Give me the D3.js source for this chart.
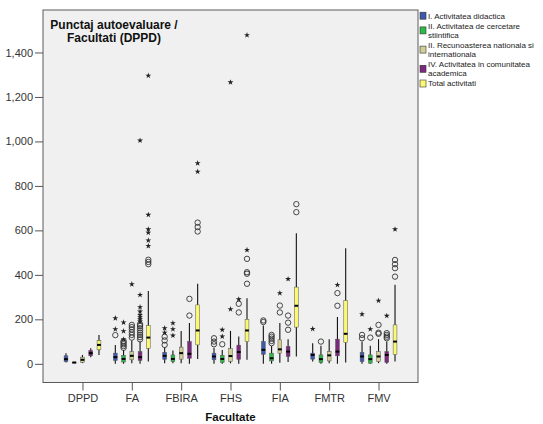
<!DOCTYPE html>
<html><head><meta charset="utf-8">
<script src="https://cdn.jsdelivr.net/npm/d3@7"></script>
<style>
body{margin:0;background:#fff}
svg{display:block;font-family:"Liberation Sans",Arial,Helvetica,sans-serif}
</style>
</head><body>
<svg id="chart" width="543" height="424"></svg>
<script>
// ---------- data ----------
const categories = ["DPPD","FA","FBIRA","FHS","FIA","FMTR","FMV"];
const seriesNames = [
  ["I. Activitatea didactica"],
  ["II. Activitatea de cercetare","stiintifica"],
  ["II. Recunoasterea nationala si","internationala"],
  ["IV. Activitatea in comunitatea","academica"],
  ["Total activitati"]
];
const seriesColors = ["#3E58AC","#2EB848","#D3CE97","#7C287D","#FBF873"];
const yTicks = [0,200,400,600,800,1000,1200,1400];
const titleLines = ["Punctaj autoevaluare /","Facultati (DPPD)"];
const xTitle = "Facultate";

// [whisker low, Q1, median, Q3, whisker high] per faculty
const didacticaStats = [[6,10,21,36,48],[0,15,30,48,85],[2,20,36,52,75],[0,18,33,48,72],[0,43,63,100,172],[10,21,40,48,93],[0,10,33,51,100]];
const didacticaCircles = [[],[129],[85,105,122],[88,100,115],[188,195],[],[115,130]];
const didacticaStars = [[],[156,205],[140,160],[],[],[157],[223]];

const cercetareStats = [[4,5,6,7,8],[0,8,22,38,62],[2,10,22,40,60],[0,6,22,38,62],[0,13,25,48,80],[0,6,21,40,81],[0,3,21,40,81]];
const cercetareCircles = [[],[72,80,88,96,102],[],[88],[93,103,113,122,130],[100],[118]];
const cercetareStars = [[],[110,147,186],[127,156,183],[123,153],[],[],[156]];

const recunoastereStats = [[3,7,18,30,40],[3,18,36,55,105],[3,21,48,75,148],[2,10,35,68,148],[5,48,65,108,183],[3,13,38,55,111],[3,10,33,55,111]];
const recunoastereCircles = [[],[118,130,142,155,165,175],[],[],[231,262],[],[135,140,175]];
const recunoastereStars = [[],[358],[],[246,1266],[318],[],[284]];

const comunitateStats = [[30,36,48,60,70],[0,15,30,55,100],[0,25,45,100,183],[0,20,53,84,123],[8,33,55,78,111],[0,36,55,111,210],[0,6,40,55,100]];
const comunitateCircles = [[],[110,120,130,140,150,160,170,178],[217,292],[231,270],[153,185,217],[261,318],[115,122,130,138]];
const comunitateStars = [[],[190,200,210,220,235,255,310,1004],[],[290],[381],[355],[216]];

const totalStats = [[40,63,85,105,130],[10,70,118,172,328],[22,85,150,265,360],[18,100,150,200,295],[33,165,261,345,587],[6,96,135,285,520],[10,42,100,175,355]];
const totalCircles = [[],[448,458,468],[595,615,635],[360,405,412,472],[682,718],[],[392,430,448,467]];
const totalStars = [[],[530,555,590,605,670,1296],[864,902],[512,1478],[],[],[605]];

const allStats = [didacticaStats,cercetareStats,recunoastereStats,comunitateStats,totalStats];
const allCircles = [didacticaCircles,cercetareCircles,recunoastereCircles,comunitateCircles,totalCircles];
const allStars = [didacticaStars,cercetareStars,recunoastereStars,comunitateStars,totalStars];

// ---------- layout ----------
const plot = {left:43, right:418, top:10, bottom:382.5};
const svg = d3.select("#chart");

const x = d3.scalePoint().domain(categories).range([plot.left, plot.right]).padding(0.8);
const xs = d3.scalePoint().domain(d3.range(seriesNames.length)).range([-16.5, 16.5]);
const y = d3.scaleLinear().domain([-84, 1591]).range([plot.bottom, plot.top]);
const boxW = 3.8;

svg.append("rect")
  .attr("x", plot.left).attr("y", plot.top)
  .attr("width", plot.right - plot.left).attr("height", plot.bottom - plot.top)
  .attr("fill", "#F0F0F0").attr("stroke", "#5a5a5a").attr("stroke-width", 1);

// y axis
const yAxis = svg.append("g").attr("transform", `translate(${plot.left},0)`)
  .call(d3.axisLeft(y).tickValues(yTicks).tickFormat(d3.format(",")).tickSize(8).tickPadding(2));
yAxis.select(".domain").remove();
yAxis.selectAll("line").attr("stroke", "#555");
yAxis.selectAll("text").attr("fill", "#333").style("font-size", "11px")
  .style("font-family", '"Liberation Sans",Arial,sans-serif');

// x axis
const xAxis = svg.append("g").attr("transform", `translate(0,${plot.bottom})`)
  .call(d3.axisBottom(x).tickSize(8).tickPadding(4));
xAxis.select(".domain").remove();
xAxis.selectAll("line").attr("stroke", "#555");
xAxis.selectAll("text").attr("fill", "#333").style("font-size", "11px")
  .style("font-family", '"Liberation Sans",Arial,sans-serif');

svg.append("text").attr("x", (plot.left + plot.right) / 2).attr("y", 421)
  .attr("text-anchor", "middle").attr("font-weight", "bold").attr("font-size", "11.5px")
  .attr("fill", "#111").text(xTitle);

// boxes
const star = d3.symbol().type(d3.symbolStar).size(11);
const gMarks = svg.append("g");
allStats.forEach((stats, si) => {
  categories.forEach((cat, ci) => {
    const s = stats[ci];
    const cx = x(cat) + xs(si);
    const g = gMarks.append("g");
    g.append("line").attr("x1", cx).attr("x2", cx).attr("y1", y(s[0])).attr("y2", y(s[4]))
      .attr("stroke", "#111").attr("stroke-width", 1.1);
    g.append("rect").attr("x", cx - boxW / 2).attr("y", y(s[3]))
      .attr("width", boxW).attr("height", Math.max(0.8, y(s[1]) - y(s[3])))
      .attr("fill", seriesColors[si]).attr("stroke", "#555").attr("stroke-width", 0.5);
    g.append("line").attr("x1", cx - boxW / 2).attr("x2", cx + boxW / 2)
      .attr("y1", y(s[2])).attr("y2", y(s[2])).attr("stroke", "#000").attr("stroke-width", 2);
    allCircles[si][ci].forEach(v => {
      g.append("circle").attr("cx", cx).attr("cy", y(v)).attr("r", 2.7)
        .attr("fill", "none").attr("stroke", "#333").attr("stroke-width", 0.9);
    });
    allStars[si][ci].forEach(v => {
      g.append("path").attr("d", star).attr("transform", `translate(${cx},${y(v)})`)
        .attr("fill", "#222");
    });
  });
});

// title (two separate lines)
svg.selectAll("text.title").data(titleLines).join("text").attr("class", "title")
  .attr("x", 114).attr("y", (d, i) => 29 + i * 13).attr("text-anchor", "middle")
  .attr("font-weight", "bold").attr("font-size", "12px").attr("fill", "#111")
  .text(d => d);

// legend
const legend = svg.append("g");
const lineGap = 9, itemGap = 10.2;
let ly = 15.7;
seriesNames.forEach((lines, i) => {
  const n = lines.length;
  const mid = ly + (n - 1) * lineGap / 2;
  legend.append("rect").attr("x", 420).attr("y", mid - 3.5).attr("width", 6).attr("height", 7)
    .attr("fill", seriesColors[i]).attr("stroke", "#333").attr("stroke-width", 0.6);
  lines.forEach((t, j) => {
    legend.append("text").attr("x", 428).attr("y", ly + j * lineGap).attr("dy", "0.35em")
      .attr("font-size", "8px").attr("fill", "#222").text(t);
  });
  ly += (n - 1) * lineGap + itemGap;
});
</script>
</body></html>
